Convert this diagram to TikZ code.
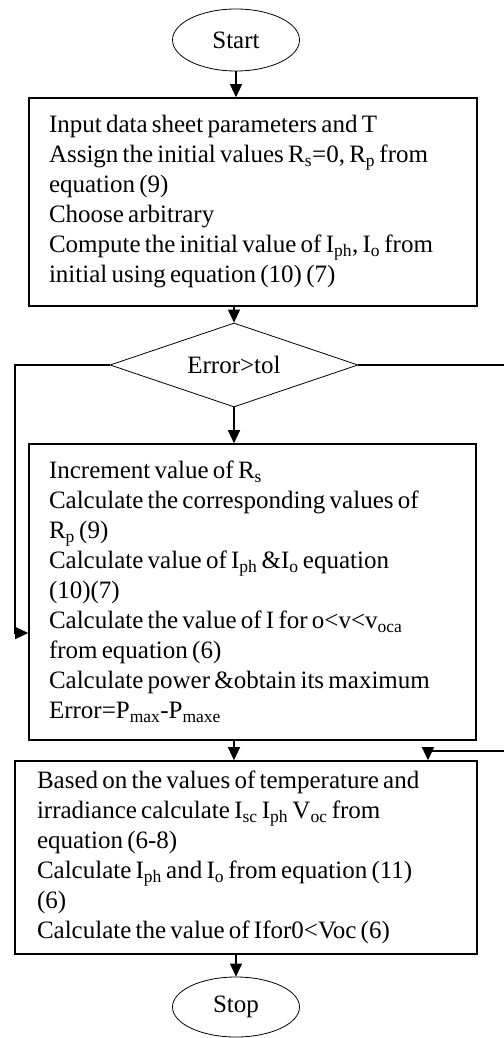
\documentclass[tikz,border=0pt]{standalone}
\usepackage{fontspec}
\setmainfont{Liberation Serif}
\usetikzlibrary{positioning, arrows.meta, shapes.geometric}

\begin{document}
\begin{tikzpicture}[
        x=1pt, y=1pt,
        font=\fontsize{25}{30}\selectfont,
        terminal/.style={draw, ellipse, minimum width=127pt, minimum height=62pt, inner sep=0pt, line width=0.8pt},
        block/.style={draw, rectangle, align=left, line width=1.6pt, inner xsep=20pt,
            execute at begin node={\spaceskip=0.17em plus 0.05em minus 0.03em\relax}},
        decision/.style={draw, diamond, shape aspect=3, minimum width=248pt, minimum height=84pt, inner sep=0pt, line width=0.8pt},
        arrow/.style={-{Triangle[length=13pt, width=12pt]}, line width=1.2pt}
    ]

    \useasboundingbox (0,0) rectangle (503,-1038);

    % Start and stop
    \node[terminal] (start) at (236,-40) {Start};
    \node[terminal, minimum height=60pt] (stop) at (236,-1007) {Stop};

    % Input block
    \node[block, text width=408pt, minimum height=208pt] (input) at (253,-202) {Input data sheet parameters and T\\
        Assign  the initial values R\textsubscript{s}=0, R\textsubscript{p} from\\
        equation (9)\\
        Choose arbitrary\\
        Compute the initial value of I\textsubscript{ph}, I\textsubscript{o} from\\
        initial using equation (10) (7)};

    % Test
    \node[decision] (test) at (234,-365) {Error>tol};

    % Iteration block
    \node[block, text width=407pt, minimum height=296pt] (iter) at (252.5,-592) {Increment value of R\textsubscript{s}\\
        Calculate the corresponding values of\\
        R\textsubscript{p} (9)\\
        Calculate value of I\textsubscript{ph} \&I\textsubscript{o} equation\\
        (10)(7)\\
        Calculate the value of I for o<v<v\textsubscript{oca}\\
        from equation (6)\\
        Calculate power \&obtain its maximum\\
        Error=P\textsubscript{max}-P\textsubscript{maxe}};

    % Final block
    \node[block, inner xsep=22pt, text width=418pt, minimum height=193pt] (final) at (246,-857.5) {Based on the values of temperature and\\
        irradiance calculate I\textsubscript{sc} I\textsubscript{ph} V\textsubscript{oc} from\\
        equation (6-8)\\
        Calculate I\textsubscript{ph} and I\textsubscript{o} from equation (11)\\
        (6)\\
        Calculate the value of Ifor0<Voc (6)};

    % Turning points of the two side lines
    \coordinate (loop) at (15,-633);
    \coordinate (out) at (512,-751);
    \coordinate (jog) at (428,-751);

    % Main flow
    \draw[arrow] (start.south) -- (start |- input.north);
    \draw[arrow] (test |- input.south) -- (test.north);
    \draw[arrow] (test.south) -- (test |- iter.north);
    \draw[arrow] (test |- iter.south) -- (test |- final.north);
    \draw[arrow] (stop |- final.south) -- (stop.north);

    % Side lines
    \draw[arrow] (test.west) -| (loop) -- (loop -| iter.west);
    \draw[arrow] (test.east) -| (out) -- (jog) -- (jog |- final.north);

\end{tikzpicture}
\end{document}
